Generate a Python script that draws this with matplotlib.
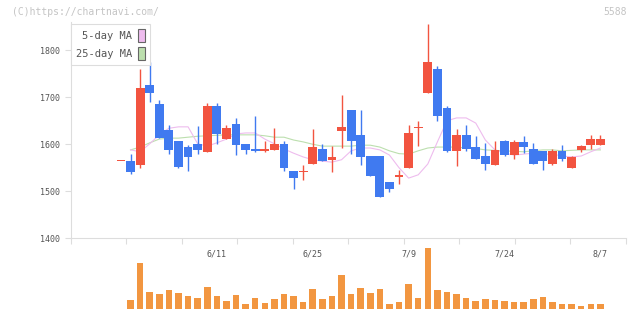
import numpy as np
import matplotlib
matplotlib.use("Agg")
import matplotlib.pyplot as plt
from matplotlib.patches import Patch

# trading days (first one only shows as a flat dash)
dates = ["5/28", "5/29", "5/30", "6/2", "6/3", "6/4", "6/5", "6/6", "6/9", "6/10",
         "6/11", "6/12", "6/13", "6/16", "6/17", "6/18", "6/19", "6/20", "6/23", "6/24",
         "6/25", "6/26", "6/27", "6/30", "7/1", "7/2", "7/3", "7/4", "7/7", "7/8",
         "7/9", "7/10", "7/11", "7/14", "7/15", "7/16", "7/17", "7/18", "7/22", "7/23",
         "7/24", "7/25", "7/28", "7/29", "7/30", "7/31", "8/1", "8/4", "8/5", "8/6", "8/7"]
label_dates = ["6/11", "6/25", "7/9", "7/24", "8/7"]

opens = [1564, 1564, 1556, 1727, 1686, 1630, 1607, 1594, 1600, 1584,
         1681, 1611, 1643, 1600, 1590, 1586, 1588, 1600, 1543, 1540,
         1558, 1590, 1567, 1628, 1673, 1620, 1575, 1575, 1520, 1531,
         1550, 1635, 1709, 1760, 1677, 1586, 1620, 1594, 1575, 1556,
         1607, 1577, 1605, 1590, 1586, 1558, 1586, 1550, 1588, 1598, 1598]
highs = [1564, 1579, 1760, 1775, 1694, 1641, 1607, 1598, 1639, 1688,
         1688, 1641, 1656, 1600, 1660, 1607, 1635, 1607, 1543, 1556,
         1632, 1600, 1596, 1705, 1673, 1673, 1575, 1575, 1520, 1545,
         1641, 1650, 1856, 1767, 1681, 1632, 1641, 1618, 1603, 1607,
         1609, 1609, 1618, 1603, 1586, 1590, 1598, 1575, 1598, 1620, 1620]
lows = [1564, 1537, 1550, 1689, 1613, 1579, 1550, 1543, 1579, 1584,
        1600, 1611, 1577, 1579, 1584, 1584, 1588, 1543, 1505, 1524,
        1558, 1564, 1541, 1592, 1579, 1556, 1532, 1488, 1499, 1516,
        1550, 1596, 1709, 1650, 1584, 1554, 1586, 1569, 1545, 1556,
        1575, 1569, 1581, 1558, 1545, 1556, 1564, 1550, 1584, 1590, 1598]
closes = [1564, 1541, 1720, 1709, 1613, 1588, 1552, 1573, 1588, 1681,
          1622, 1635, 1598, 1588, 1586, 1590, 1600, 1550, 1528, 1543,
          1594, 1564, 1573, 1637, 1607, 1573, 1532, 1488, 1505, 1535,
          1624, 1637, 1775, 1660, 1586, 1620, 1590, 1569, 1558, 1588,
          1577, 1605, 1594, 1558, 1564, 1586, 1569, 1573, 1596, 1611, 1611]
volume = [0, 9, 46, 17, 15, 19, 16, 13, 11, 22,
          13, 8, 14, 5, 11, 6, 10, 15, 13, 7,
          20, 10, 13, 34, 15, 21, 16, 20, 5, 7,
          25, 11, 61, 19, 17, 15, 11, 8, 10, 9,
          8, 7, 7, 10, 12, 7, 5, 5, 3, 5, 5]

ma5 = [np.nan, 1588, 1584, 1601, 1620, 1634, 1637, 1637, 1601, 1596,
       1603, 1611, 1622, 1624, 1624, 1611, 1601, 1590, 1581, 1573,
       1567, 1564, 1562, 1567, 1586, 1592, 1592, 1588, 1577, 1550,
       1528, 1535, 1558, 1605, 1650, 1656, 1656, 1645, 1609, 1588,
       1581, 1577, 1579, 1581, 1579, 1579, 1575, 1573, 1575, 1584, 1592]
ma25 = [np.nan, 1588, 1594, 1603, 1611, 1613, 1613, 1615, 1617, 1618,
        1619, 1620, 1620, 1620, 1620, 1618, 1615, 1615, 1609, 1605,
        1600, 1596, 1596, 1596, 1596, 1598, 1598, 1594, 1586, 1580,
        1579, 1586, 1592, 1594, 1594, 1594, 1592, 1591, 1588, 1587,
        1586, 1585, 1584, 1586, 1588, 1588, 1586, 1587, 1588, 1588, 1588]

UP = "#f25440"
DOWN = "#407af0"
VOL = "#f29640"
GRID = "#dddddd"
TXT = "#555555"

fig = plt.figure(figsize=(6.4, 3.11), dpi=100)
ax = fig.add_axes([0.1105, 0.2338, 0.8672, 0.6955])
axv = fig.add_axes([0.1105, 0.0064, 0.8672, 0.2058], sharex=ax)

x = np.arange(len(dates))
o = np.array(opens)
c = np.array(closes)
colors = [UP if cc >= oo else DOWN for oo, cc in zip(o, c)]
body_lo = np.minimum(o, c)
body_h = np.maximum(np.abs(c - o), 2)

ax.plot(x, ma25, color="#bcdfae", lw=0.8, zorder=1)
ax.plot(x, ma5, color="#eebcee", lw=0.8, zorder=1)
ax.vlines(x, lows, highs, colors=colors, lw=1, zorder=2)
ax.bar(x, body_h, bottom=body_lo, width=0.92, color=colors, lw=0, zorder=3)

xmin, xmax = -5.24, 52.64
ax.set_xlim(xmin, xmax)
ax.set_ylim(1400, 1860)
ax.set_yticks([1400, 1500, 1600, 1700, 1800])
ax.set_xticks(np.linspace(xmin, xmax, 11))
ax.set_xticklabels([])
ax.set_xticks([dates.index(d) for d in label_dates], minor=True)
ax.set_xticklabels(label_dates, minor=True)
ax.tick_params(axis="x", which="major", length=4, color=GRID, direction="out")
ax.tick_params(axis="x", which="minor", length=0, pad=8, labelsize=6, labelcolor=TXT)
ax.tick_params(axis="y", length=4, color=GRID, pad=4, labelsize=6, labelcolor=TXT)
for lab in ax.get_xticklabels(minor=True) + ax.get_yticklabels():
    lab.set_family("DejaVu Sans Mono")
for s in ["top", "right"]:
    ax.spines[s].set_visible(False)
for s in ["left", "bottom"]:
    ax.spines[s].set_color(GRID)

handles = [Patch(facecolor="#eebcee", edgecolor="#666666", lw=0.8, label="5-day MA"),
           Patch(facecolor="#bcdfae", edgecolor="#666666", lw=0.8, label="25-day MA")]
leg = ax.legend(handles=handles, loc="upper left", bbox_to_anchor=(0.1105, 1 - 24 / 311),
                bbox_transform=fig.transFigure, borderaxespad=0, markerfirst=False,
                fancybox=False, edgecolor=GRID, framealpha=1, handlelength=0.6,
                handleheight=1.5, handletextpad=0.6, labelspacing=0.5, borderpad=0.5,
                prop={"family": "DejaVu Sans Mono", "size": 7.5})
for t in leg.get_texts():
    t.set_color(TXT)
leg.get_frame().set_linewidth(0.8)

axv.bar(x, volume, width=0.68, color=VOL, lw=0)
axv.set_ylim(0, 64)
axv.axis("off")

fig.text(12 / 640, 1 - 12 / 311, "(C)https://chartnavi.com/", ha="left", va="center",
         fontsize=7, color="#c4c4c4", family="DejaVu Sans Mono")
fig.text(627 / 640, 1 - 12 / 311, "5588", ha="right", va="center",
         fontsize=7, color="#c4c4c4", family="DejaVu Sans Mono")

fig.savefig("out.png", dpi=100)
